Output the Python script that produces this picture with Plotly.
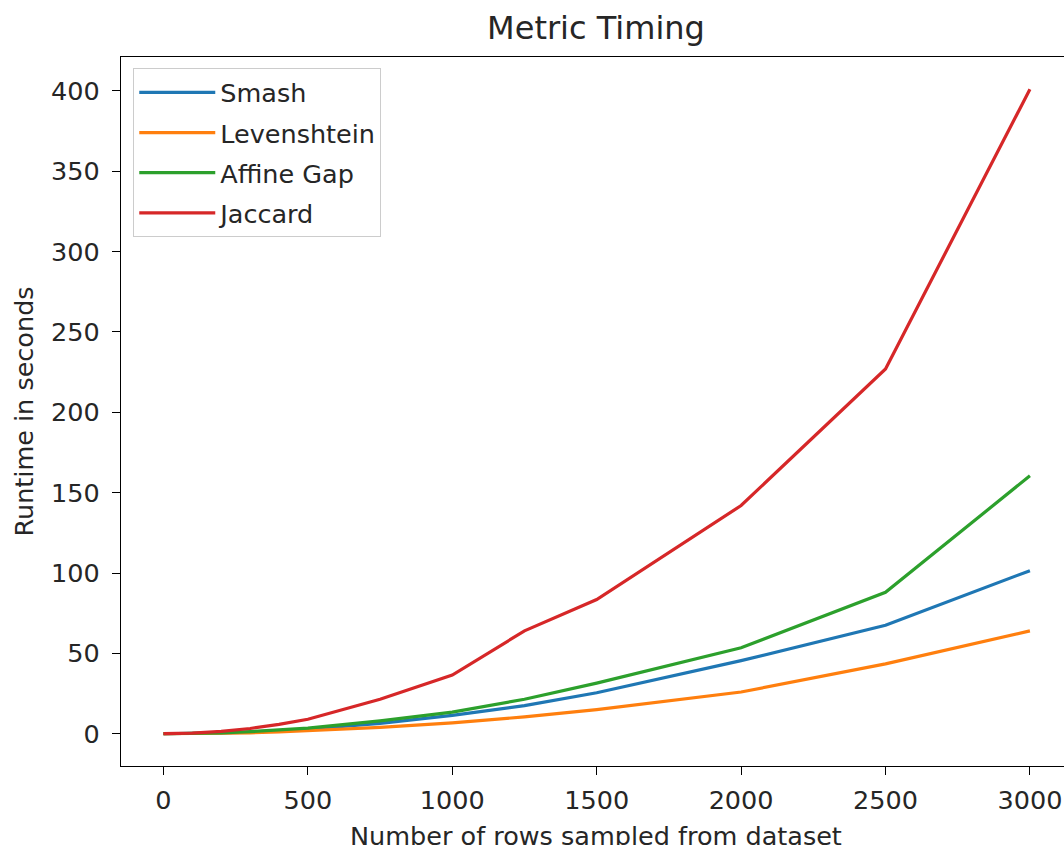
import plotly.graph_objects as go

rows = [0, 100, 200, 300, 400, 500, 750, 1000, 1250, 1500, 2000, 2500, 3000]
smash = [0.0, 0.1, 0.5, 1.0, 1.8, 2.8, 6.5, 11.5, 17.5, 25.5, 45.5, 67.5, 101.5]
levenshtein = [0.0, 0.05, 0.3, 0.6, 1.1, 1.8, 4.0, 6.8, 10.5, 15.0, 26.0, 43.5, 64.0]
affine_gap = [0.0, 0.15, 0.6, 1.3, 2.3, 3.5, 8.0, 13.5, 21.5, 31.5, 53.5, 88.0, 160.5]
jaccard = [0.1, 0.4, 1.5, 3.3, 5.8, 9.0, 21.5, 36.5, 64.0, 83.5, 142.0, 227.0, 401.0]

series_names = ["Smash", "Levenshtein", "Affine Gap", "Jaccard"]
series_values = [smash, levenshtein, affine_gap, jaccard]
colors = ["#1f77b4", "#ff7f0e", "#2ca02c", "#d62728"]

x_ticks = [0, 500, 1000, 1500, 2000, 2500, 3000]
y_ticks = [0, 50, 100, 150, 200, 250, 300, 350, 400]

FONT = "DejaVu Sans"
fs = 25.5

fig = go.Figure()
for name, vals, c in zip(series_names, series_values, colors):
    fig.add_trace(go.Scatter(x=rows, y=vals, mode="lines", name=name,
                             legendgroup=name,
                             line=dict(color=c, width=3.2)))

W, H = 1064, 845
L, R, T, B = 121, 0, 57, 79
cx = (596 - L) / (W - L - R)

fig.update_layout(
    width=W, height=H,
    margin=dict(l=L, r=R, t=T, b=B, pad=0),
    paper_bgcolor="white", plot_bgcolor="white",
    font=dict(family=FONT, size=fs, color="#262626"),
    title=dict(text="Metric Timing", font=dict(size=32, color="#262626"),
               xref="paper", x=cx, xanchor="center",
               yref="container", y=1 - 28 / H, yanchor="middle"),
    showlegend=True,
    legend=dict(x=0.013, y=0.984, xanchor="left", yanchor="top",
                bgcolor="white", bordercolor="#cccccc", borderwidth=1,
                tracegroupgap=4, itemwidth=76,
                font=dict(size=fs, color="#262626")),
    xaxis=dict(range=[-147, 3118], tickvals=x_ticks,
               showgrid=False, zeroline=False,
               showline=True, linecolor="black", linewidth=1.4, mirror=True,
               ticks="outside", ticklen=8, tickwidth=1.4, tickcolor="black",
               ticklabelstandoff=3),
    yaxis=dict(range=[-20.05, 421.05], tickvals=y_ticks,
               showgrid=False, zeroline=False,
               showline=True, linecolor="black", linewidth=1.4, mirror=False,
               ticks="outside", ticklen=8, tickwidth=1.4, tickcolor="black",
               ticklabelstandoff=7,
               title=dict(text="Runtime in seconds",
                          font=dict(size=fs), standoff=10)),
    annotations=[dict(text="Number of rows sampled from dataset",
                      xref="paper", yref="paper", x=cx, y=0,
                      xanchor="center", yanchor="middle", yshift=-70,
                      showarrow=False, font=dict(size=fs, color="#262626"))],
)

fig.write_html("out.html", config={"displayModeBar": False},
               post_script="document.body.style.margin='0';")
